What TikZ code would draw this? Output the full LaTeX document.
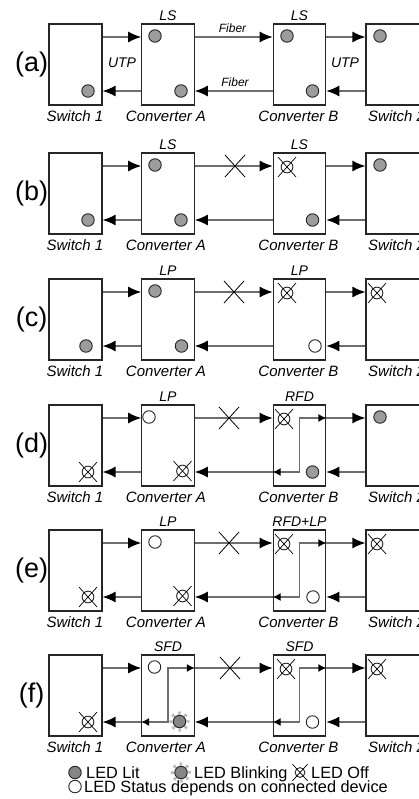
\documentclass[tikz,border=0pt]{standalone}
\usepackage{fontspec}
\setmainfont{Liberation Sans}
\usetikzlibrary{arrows.meta,calc}
\definecolor{mediaborder}{HTML}{262626}
\definecolor{medialine}{HTML}{6E6E6E}
\definecolor{medialit}{HTML}{9C9C9C}
\definecolor{mediablink}{HTML}{858585}
\definecolor{mediaray}{HTML}{BDBDBD}
\tikzset{
  media box/.style={
    rectangle, draw=mediaborder, line width=1.2pt,
    minimum width=52.5pt, minimum height=81pt, inner sep=0pt
  },
  media link/.style={
    draw=medialine, line width=1.3pt,
    -{Latex[length=13pt,width=11pt,color=black]}
  },
  media bypass/.style={
    draw=medialine, line width=1.3pt,
    {Latex[length=8pt,width=8pt,color=black]}-{Latex[length=8pt,width=8pt,color=black]}
  },
  media name/.style={font=\fontsize{15}{18}\selectfont\itshape, inner sep=0pt, anchor=base},
  media state/.style={font=\fontsize{14}{17}\selectfont\itshape, inner sep=0pt, anchor=base},
  media cable/.style={font=\fontsize{12}{14}\selectfont\itshape, inner sep=0pt, anchor=base},
  media tag/.style={font=\fontsize{27}{32}\selectfont, inner sep=0pt},
  media cut/.style={draw=black, line width=0.8pt},
  led open/.style={
    circle, draw=mediaborder, fill=white, line width=0.9pt,
    minimum size=12.5pt, inner sep=0pt
  },
  led lit/.style={led open, fill=medialit},
  led blink/.style={led open, fill=mediablink},
  led cross/.style={draw=black, line width=0.7pt},
  led off/.style={
    led open, minimum size={1.3*#1pt},
    append after command={
      ([shift={(-#1,{-1.1*#1})}]\tikzlastnode.center) edge[led cross] ([shift={(#1,{1.1*#1})}]\tikzlastnode.center)
      ([shift={(-#1,{1.1*#1})}]\tikzlastnode.center) edge[led cross] ([shift={(#1,{-1.1*#1})}]\tikzlastnode.center)
    }
  },
  led off/.default=9,
  blink ring/.style={
    circle, draw=mediaray, line width=3.2pt, minimum size=17pt, inner sep=0pt,
    dash pattern=on 2.8pt off 3.88pt, dash phase=1.4pt
  },
  legend text/.style={font=\fontsize{16.3}{19}\selectfont, inner sep=0pt, anchor=base west, text depth=0pt}
}
% one row: two switches, two converters and their links
\newcommand{\mediaframe}[3]{%
  \coordinate (top#1) at (0,13);
  \coordinate (bot#1) at (0,67);
  \node[media box, minimum width=53pt] (sw1#1) at (75.5,40.5) {};
  \node[media box] (cva#1) at (168,40.5) {};
  \node[media box] (cvb#1) at (299.5,40.5) {};
  \node[media box, minimum width=60pt] (sw2#1) at (396,40.5) {};
  \node[media tag] (tag#1) at (31.7,40.5) {(#1)};
  \node[media state] (sta#1) at (168,-3.5) {#2};
  \node[media state] (stb#1) at (299.5,-3.5) {#3};
  \node[media name, anchor=base east] (nsw1#1) at (103.5,97.5) {Switch 1};
  \node[media name] (ncva#1) at (166,97.5) {Converter A};
  \node[media name] (ncvb#1) at (298.5,97.5) {Converter B};
  \node[media name, anchor=base west] (nsw2#1) at (368,97.5) {Switch 2};
  \draw[media link] (sw1#1.east |- top#1) -- (cva#1.west |- top#1);
  \draw[media link] (cva#1.west |- bot#1) -- (sw1#1.east |- bot#1);
  \draw[media link] (cva#1.east |- top#1) -- (cvb#1.west |- top#1);
  \draw[media link] (cvb#1.west |- bot#1) -- (cva#1.east |- bot#1);
  \draw[media link] (cvb#1.east |- top#1) -- (sw2#1.west |- top#1);
  \draw[media link] (sw2#1.west |- bot#1) -- (cvb#1.east |- bot#1);
}
% broken fiber
\newcommand{\mediacut}[2]{%
  \coordinate (cut#1) at (#2,13);
  \draw[media cut] ([shift={(-10,-11)}]cut#1) -- ([shift={(10,11)}]cut#1);
  \draw[media cut] ([shift={(-10,11)}]cut#1) -- ([shift={(10,-11)}]cut#1);
}
\begin{document}
\begin{tikzpicture}[x=1pt,y=-1pt]
  \useasboundingbox (0,0) rectangle (419,799);

  % (a)
  \begin{scope}[shift={(0,24)}]
    \mediaframe{a}{LS}{LS}
    \node[media cable] (fibtx) at (232.5,9) {Fiber};
    \node[media cable] (fibrx) at (235,63) {Fiber};
    \node[media state] (utpl) at (122,44) {UTP};
    \node[media state] (utpr) at (345,44) {UTP};
    \node[led lit] (la1) at (88,67) {};
    \node[led lit] (la2) at (155,12) {};
    \node[led lit] (la3) at (181,67) {};
    \node[led lit] (la4) at (287,12) {};
    \node[led lit] (la5) at (312.5,67) {};
    \node[led lit] (la6) at (380,12) {};
  \end{scope}

  % (b)
  \begin{scope}[shift={(0,153)}]
    \mediaframe{b}{LS}{LS}
    \mediacut{b}{235}
    \node[led lit] (lb1) at (88,67) {};
    \node[led lit] (lb2) at (155,12) {};
    \node[led lit] (lb3) at (181,67) {};
    \node[led off] (lb4) at (287,14) {};
    \node[led lit] (lb5) at (312.5,67) {};
    \node[led lit] (lb6) at (380,12) {};
  \end{scope}

  % (c)
  \begin{scope}[shift={(0,279)}]
    \mediaframe{c}{LP}{LP}
    \mediacut{c}{234}
    \node[led lit] (lc1) at (86,67) {};
    \node[led lit] (lc2) at (155,12) {};
    \node[led lit] (lc3) at (181.5,67) {};
    \node[led off] (lc4) at (287,14) {};
    \node[led open] (lc5) at (315,67) {};
    \node[led off] (lc6) at (377,14) {};
  \end{scope}

  % (d)
  \begin{scope}[shift={(0,405)}]
    \mediaframe{d}{LP}{RFD}
    \mediacut{d}{229}
    \draw[media bypass] (cvbd.west |- botd) -| (cvbd.center |- topd) -- (cvbd.east |- topd);
    \node[led off] (ld1) at (88,67) {};
    \node[led open] (ld2) at (149,12) {};
    \node[led off] (ld3) at (182.5,66) {};
    \node[led off] (ld4) at (284,14) {};
    \node[led lit] (ld5) at (312.5,67) {};
    \node[led lit] (ld6) at (380,12) {};
  \end{scope}

  % (e)
  \begin{scope}[shift={(0,530)}]
    \mediaframe{e}{LP}{RFD+LP}
    \mediacut{e}{229}
    \draw[media bypass] (cvbe.west |- bote) -| (cvbe.center |- tope) -- (cvbe.east |- tope);
    \node[led off] (le1) at (88,67) {};
    \node[led open] (le2) at (155,12) {};
    \node[led off] (le3) at (182.5,66) {};
    \node[led off] (le4) at (284,14) {};
    \node[led open] (le5) at (313,67) {};
    \node[led off] (le6) at (377,14) {};
  \end{scope}

  % (f)
  \begin{scope}[shift={(0,655)}]
    \mediaframe{f}{SFD}{SFD}
    \mediacut{f}{230}
    \draw[media bypass] (cvaf.west |- botf) -| (cvaf.center |- topf) -- (cvaf.east |- topf);
    \draw[media bypass] (cvbf.west |- botf) -| (cvbf.center |- topf) -- (cvbf.east |- topf);
    \node[led off] (lf1) at (88,67) {};
    \node[led open] (lf2) at (154.5,12) {};
    \node[blink ring] (lf3ring) at (179.5,66.5) {};
    \node[led blink] (lf3) at (179.5,66.5) {};
    \node[led off] (lf4) at (286,14) {};
    \node[led open] (lf5) at (312.5,67) {};
    \node[led off] (lf6) at (377,14) {};
  \end{scope}

  % legend
  \node[led blink] (keylit) at (75,772.5) {};
  \node[legend text] (keylittxt) at (86,778.3) {LED Lit};
  \node[blink ring] (keyring) at (181,772.5) {};
  \node[led blink] (keyblink) at (181,772.5) {};
  \node[legend text] (keyblinktxt) at (194,778.3) {LED Blinking};
  \node[led off=7.5] (keyoff) at (300,772.5) {};
  \node[legend text] (keyofftxt) at (311,778.3) {LED Off};
  \node[led open] (keyopen) at (75,786.5) {};
  \node[legend text] (keyopentxt) at (84,792.7) {LED Status depends on connected device};
\end{tikzpicture}
\end{document}
